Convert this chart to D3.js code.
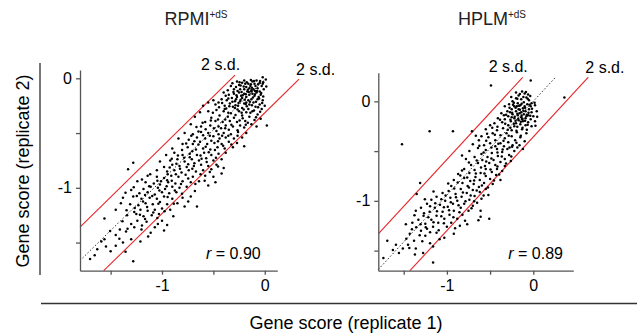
<!DOCTYPE html>
<html>
<head>
<meta charset="utf-8">
<script src="https://cdn.jsdelivr.net/npm/d3@7"></script>
<style>
  body { margin: 0; background: #fff; }
  svg { display: block; font-family: "Liberation Sans", Arial, Helvetica, sans-serif; }
</style>
</head>
<body>
<svg id="chart" width="637" height="335"></svg>
<script>
// panel labels
var panelTitles = ["RPMI", "HPLM"];
var panelSuper = ["+dS", "+dS"];
var rValues = ["0.90", "0.89"];

// gene scores [replicate 1, replicate 2]
var rpmiPoints = [
  [-0.02,0.01],[0.01,-0.01],[-0.08,-0.02],[-0.12,-0.03],[-0.2,-0.02],[-0.22,-0.04],[-0.16,-0.05],[-0.1,-0.05],[-0.05,-0.04],[-0.03,-0.07],
  [-0.14,-0.07],[-0.18,-0.08],[-0.25,-0.06],[-0.28,-0.08],[-0.07,-0.09],[-0.11,-0.1],[-0.2,-0.1],[-0.24,-0.1],[-0.3,-0.1],[-0.15,-0.09],
  [-0.01,-0.1],[-0.09,-0.07],[-0.13,-0.11],[-0.17,-0.12],[-0.05,-0.12],[-0.02,-0.05],[-0.19,-0.05],[-0.27,-0.03],[-0.33,-0.07],[-0.36,-0.11],
  [-0.08,-0.13],[-0.12,-0.14],[-0.2,-0.14],[-0.25,-0.13],[-0.3,-0.14],[-0.35,-0.15],[-0.4,-0.13],[-0.15,-0.15],[-0.1,-0.16],[-0.04,-0.15],
  [-0.18,-0.17],[-0.22,-0.18],[-0.27,-0.17],[-0.32,-0.18],[-0.13,-0.19],[-0.07,-0.19],[-0.02,-0.2],[-0.16,-0.2],[-0.24,-0.21],[-0.29,-0.21],
  [-0.37,-0.2],[-0.42,-0.19],[-0.11,-0.22],[-0.2,-0.23],[-0.34,-0.23],[-0.45,-0.22],[-0.05,-0.24],[-0.15,-0.24],[-0.26,-0.25],[-0.31,-0.26],
  [-0.39,-0.25],[-0.48,-0.24],[-0.09,-0.26],[-0.22,-0.27],[-0.03,-0.28],[0.0,-0.25],[-0.13,-0.12],[-0.23,-0.16],[-0.06,-0.17],[-0.18,-0.22],
  [-0.28,-0.19],[-0.38,-0.16],[-0.5,-0.2],[-0.55,-0.22],[-0.6,-0.25],
  [-0.045,-0.025],[-0.135,-0.015],[-0.175,-0.035],[-0.065,-0.055],[-0.235,-0.065],[-0.125,-0.085],[-0.205,-0.075],[-0.095,-0.115],[-0.155,-0.125],[-0.265,-0.115],
  [-0.035,-0.135],[-0.185,-0.145],[-0.225,-0.125],[-0.115,-0.175],[-0.275,-0.155],[-0.055,-0.185],[-0.195,-0.195],[-0.145,-0.215],[-0.255,-0.225],[-0.085,-0.215],
  [-0.315,-0.215],[-0.175,-0.255],[-0.125,-0.245],[-0.025,-0.225],[-0.205,-0.285],[-0.285,-0.245],[-0.345,-0.255],[-0.105,-0.295],[-0.065,-0.265],[-0.235,-0.195],
  [-0.165,-0.105],[-0.215,-0.155],[-0.095,-0.145],[-0.015,-0.165],[-0.305,-0.125],[-0.355,-0.185],[-0.415,-0.225],[-0.375,-0.275],[-0.445,-0.265],[-0.135,-0.055],
  [-0.075,-0.115],[-0.245,-0.035],[-0.015,-0.035],[0.015,-0.075],[-0.315,-0.045],[-0.105,-0.025],[-0.185,-0.235],[-0.265,-0.285],[-0.045,-0.305],[-0.14,-0.315],
  [-0.12,-0.3],[-0.18,-0.31],[-0.25,-0.3],[-0.33,-0.32],[-0.4,-0.3],[-0.47,-0.29],[-0.55,-0.3],[-0.63,-0.31],[-0.07,-0.33],[-0.15,-0.35],
  [-0.22,-0.34],[-0.3,-0.36],[-0.36,-0.35],[-0.44,-0.34],[-0.52,-0.36],[-0.68,-0.35],[-0.1,-0.38],[-0.19,-0.39],[-0.27,-0.4],[-0.34,-0.39],
  [-0.41,-0.4],[-0.48,-0.39],[-0.58,-0.4],[-0.04,-0.37],[-0.13,-0.42],[-0.24,-0.43],[-0.31,-0.44],[-0.38,-0.43],[-0.45,-0.44],[-0.53,-0.43],
  [-0.62,-0.44],[-0.72,-0.42],[0.02,-0.43],[-0.08,-0.44],[-0.2,-0.45],[-0.35,-0.47],[-0.16,-0.28],[-0.29,-0.27],[-0.39,-0.28],
  [-0.215,-0.365],[-0.285,-0.335],[-0.455,-0.375],[-0.505,-0.315],[-0.385,-0.375],[-0.165,-0.405],[-0.325,-0.425],[-0.425,-0.455],[-0.575,-0.465],[-0.265,-0.475],
  [-0.495,-0.455],[-0.645,-0.485],[-0.355,-0.525],[-0.415,-0.525],[-0.535,-0.525],[-0.265,-0.525],[-0.685,-0.575],[-0.455,-0.575],[-0.325,-0.605],[-0.575,-0.625],
  [-0.645,-0.605],[-0.405,-0.615],[-0.485,-0.655],[-0.765,-0.595],[-0.545,-0.675],[-0.705,-0.665],[-0.625,-0.705],[-0.475,-0.725],[-0.785,-0.725],[-0.845,-0.705],
  [-0.565,-0.765],[-0.685,-0.775],[-0.745,-0.785],[-0.905,-0.735],[-0.615,-0.735],[-0.825,-0.825],[-0.705,-0.825],[-0.535,-0.855],[-0.865,-0.875],[-0.945,-0.875],
  [-0.625,-0.875],[-0.745,-0.915],[-0.815,-0.965],[-1.045,-0.935],[-0.905,-0.935],[-0.675,-0.965],[-1.125,-0.985],[-0.955,-0.985],[-0.875,-1.025],[-1.025,-1.025],
  [-1.165,-1.065],[-0.805,-1.055],[-1.095,-1.075],[-0.945,-1.085],[-1.245,-1.075],[-1.035,-1.145],[-1.185,-1.125],[-0.885,-1.145],[-1.145,-1.175],[-1.265,-1.185],
  [-0.975,-1.215],[-1.215,-1.245],[-1.345,-1.205],[-1.045,-1.275],[-1.165,-1.285],[-0.715,-0.525],[-0.385,-0.455],[-0.185,-0.425],[-0.245,-0.385],[-0.605,-0.405],
  [-0.525,-0.385],[-0.355,-0.315],[-0.225,-0.315],[-0.085,-0.355],[-0.665,-0.445],[-0.805,-0.655],[-0.455,-0.805],[-0.925,-0.815],[-1.115,-0.875],[-1.195,-0.925],
  [-0.585,-0.935],[-1.275,-0.995],[-1.355,-1.045],[-0.745,-1.125],[-1.085,-1.225],[-1.385,-1.305],[-1.195,-1.345],[-1.335,-1.375],[-1.135,-1.445],[-1.505,-1.395],
  [-1.415,-1.465],[-1.545,-1.535],[-1.355,-1.585],[-1.655,-1.615],
  [-0.18,-0.5],[-0.26,-0.49],[-0.33,-0.51],[-0.4,-0.5],[-0.47,-0.48],[-0.55,-0.5],[-0.62,-0.49],[-0.7,-0.51],[-0.78,-0.5],[-0.22,-0.54],
  [-0.3,-0.55],[-0.38,-0.54],[-0.44,-0.55],[-0.5,-0.53],[-0.58,-0.55],[-0.66,-0.54],[-0.74,-0.56],[-0.84,-0.55],[-0.27,-0.59],[-0.35,-0.58],
  [-0.42,-0.6],[-0.49,-0.59],[-0.56,-0.6],[-0.63,-0.58],[-0.7,-0.6],[-0.8,-0.6],[-0.31,-0.63],[-0.39,-0.64],[-0.46,-0.63],[-0.53,-0.65],
  [-0.6,-0.64],[-0.67,-0.65],[-0.75,-0.63],[-0.9,-0.64],[-0.2,-0.62],[-0.52,-0.57],[-0.6,-0.52],[-0.45,-0.51],
  [-0.38,-0.68],[-0.45,-0.69],[-0.52,-0.7],[-0.59,-0.68],[-0.66,-0.7],[-0.73,-0.69],[-0.8,-0.7],[-0.88,-0.68],[-0.96,-0.7],[-0.42,-0.74],
  [-0.5,-0.75],[-0.57,-0.73],[-0.64,-0.75],[-0.71,-0.74],[-0.78,-0.76],[-0.85,-0.74],[-0.92,-0.75],[-1.02,-0.76],[-0.47,-0.79],[-0.55,-0.8],
  [-0.62,-0.79],[-0.69,-0.8],[-0.76,-0.81],[-0.83,-0.8],[-0.9,-0.79],[-0.98,-0.81],[-0.4,-0.82],[-0.6,-0.84],[-0.67,-0.85],[-0.74,-0.84],
  [-0.81,-0.86],[-0.88,-0.84],[-0.95,-0.85],[-1.05,-0.84],[-1.28,-0.77],[-1.33,-0.83],[-0.42,-0.87],[-0.73,-0.72],[-0.86,-0.78],[-0.52,-0.83],
  [-0.5,-0.9],[-0.58,-0.89],[-0.7,-0.9],[-0.77,-0.88],[-0.84,-0.9],[-0.91,-0.89],[-0.98,-0.91],[-1.05,-0.9],[-1.14,-0.89],[-0.64,-0.94],
  [-0.72,-0.95],[-0.8,-0.94],[-0.87,-0.96],[-0.94,-0.95],[-1.01,-0.94],[-1.08,-0.96],[-1.16,-0.95],[-1.24,-0.94],[-0.55,-0.98],[-0.76,-0.99],
  [-0.83,-1.0],[-0.9,-0.99],[-0.97,-1.01],[-1.04,-1.0],[-1.11,-0.99],[-1.18,-1.01],[-0.68,-1.03],[-0.86,-1.04],[-0.93,-1.05],[-1.0,-1.04],
  [-1.07,-1.06],[-1.14,-1.04],[-1.22,-1.05],[-1.3,-1.02],[-0.48,-0.95],[-0.95,-0.93],[-1.02,-0.97],
  [-0.72,-1.08],[-0.8,-1.09],[-0.9,-1.1],[-0.98,-1.08],[-1.05,-1.1],[-1.12,-1.09],[-1.2,-1.1],[-1.28,-1.08],[-1.38,-1.09],[-0.85,-1.14],
  [-0.95,-1.15],[-1.02,-1.13],[-1.09,-1.15],[-1.16,-1.14],[-1.23,-1.16],[-1.31,-1.15],[-1.4,-1.14],[-0.66,-1.17],[-0.78,-1.17],[-0.92,-1.2],
  [-1.0,-1.19],[-1.07,-1.2],[-1.14,-1.21],[-1.21,-1.2],[-1.27,-1.22],[-0.89,-1.26],[-1.03,-1.24],[-1.1,-1.25],[-1.18,-1.26],[-1.25,-1.24],
  [-1.34,-1.25],[-1.56,-1.28],[-1.45,-1.2],
  [-1.3,-1.33],[-1.24,-1.3],[-1.15,-1.31],[-1.07,-1.36],[-1.04,-1.33],[-1.0,-1.3],[-0.95,-1.34],[-1.41,-1.38],[-1.45,-1.43],[-1.35,-1.4],
  [-1.2,-1.38],[-1.11,-1.41],[-1.27,-1.36],[-0.98,-1.39],
  [-1.59,-1.49],[-1.56,-1.47],[-1.45,-1.53],[-1.21,-1.49],[-1.3,-1.47],[-1.38,-1.5],[-1.7,-1.65],[-1.28,-1.67],[-1.5,-1.58],[-1.63,-1.56]
];

var hplmPoints = [
  [-0.49,0.16],[-0.03,0.21],[0.36,0.04],[-0.12,-0.48],[-1.52,-0.43],[-1.2,-0.3],[-0.93,-0.3],[-0.71,-0.3],
  [-0.13,0.1],[-0.1,0.08],[-0.17,0.06],[-0.08,0.04],[-0.2,0.03],[-0.14,0.02],[-0.05,0.01],[-0.24,0.0],[-0.11,-0.01],[-0.02,-0.02],
  [-0.18,-0.02],[-0.07,-0.03],[-0.28,-0.03],[-0.15,-0.04],[-0.22,-0.05],[-0.1,-0.05],[-0.03,-0.05],[0.02,-0.04],[-0.33,-0.05],[-0.2,0.09],
  [-0.06,0.07],
  [-0.155,0.075],[-0.115,0.045],[-0.185,0.025],[-0.065,0.025],[-0.225,-0.015],[-0.135,-0.025],[-0.045,-0.035],[-0.095,-0.065],[-0.205,-0.065],[-0.155,-0.085],
  [-0.275,-0.065],[-0.015,-0.075],[-0.115,-0.095],[-0.245,-0.115],[-0.185,-0.125],[-0.055,-0.115],[-0.135,-0.145],[-0.315,-0.135],[-0.215,-0.155],[-0.035,-0.145],
  [-0.095,-0.195],[-0.175,-0.175],[-0.265,-0.185],[-0.145,-0.205],[-0.225,-0.225],[-0.385,-0.185],[-0.065,-0.235],[-0.325,-0.225],[-0.185,-0.255],[-0.265,-0.265],
  [-0.125,-0.265],[-0.415,-0.255],[-0.235,-0.035],[-0.255,0.045],[-0.085,0.095],[-0.035,0.055],[0.015,-0.015],[0.045,-0.155],[0.025,-0.245],[-0.165,-0.045],
  [-0.075,-0.135],[-0.125,-0.175],[-0.205,-0.195],[-0.295,-0.285],[-0.475,-0.265],[-0.195,-0.295],
  [-0.12,-0.07],[-0.17,-0.08],[-0.25,-0.08],[-0.05,-0.08],[-0.09,-0.1],[-0.2,-0.1],[-0.3,-0.1],[-0.14,-0.11],[-0.02,-0.11],[-0.37,-0.12],
  [-0.24,-0.13],[-0.11,-0.13],[-0.18,-0.14],[-0.06,-0.14],[-0.29,-0.15],[-0.14,-0.16],[-0.22,-0.17],[-0.09,-0.17],[-0.33,-0.18],[-0.41,-0.17],
  [-0.03,-0.18],[-0.17,-0.19],[-0.26,-0.2],[-0.12,-0.2],[-0.06,-0.21],[-0.36,-0.21],[-0.2,-0.22],[-0.45,-0.22],[-0.15,-0.23],[-0.29,-0.24],
  [-0.09,-0.24],[-0.22,-0.25],[-0.02,-0.25],[-0.5,-0.24],[-0.16,-0.12],[-0.27,-0.11],[-0.08,-0.15],[-0.19,-0.05],[0.0,-0.15],[-0.34,-0.14],
  [-0.13,-0.18],[-0.25,-0.16],[0.04,-0.1],[0.02,-0.2],
  [-0.35,-0.27],[-0.13,-0.28],[-0.25,-0.29],[-0.42,-0.29],[-0.55,-0.28],[-0.19,-0.31],[-0.31,-0.32],[-0.47,-0.32],[-0.08,-0.32],[-0.38,-0.34],
  [-0.25,-0.35],[-0.6,-0.35],[-0.15,-0.36],[-0.52,-0.36],[-0.33,-0.37],[-0.44,-0.39],[-0.21,-0.39],[-0.63,-0.39],[-0.29,-0.41],[-0.1,-0.4],
  [-0.38,-0.42],[-0.5,-0.42],[-0.24,-0.44],[-0.57,-0.44],[-0.16,-0.44],[-0.7,-0.43],[-0.44,-0.45],[-0.34,-0.45],
  [-0.285,-0.345],[-0.445,-0.335],[-0.345,-0.395],[-0.545,-0.395],[-0.195,-0.415],[-0.405,-0.425],[-0.275,-0.465],[-0.485,-0.465],[-0.625,-0.445],[-0.355,-0.485],
  [-0.185,-0.465],[-0.575,-0.515],[-0.415,-0.515],[-0.255,-0.555],[-0.485,-0.575],[-0.655,-0.595],[-0.365,-0.555],[-0.545,-0.605],[-0.415,-0.655],[-0.605,-0.665],
  [-0.745,-0.615],[-0.495,-0.685],[-0.665,-0.725],[-0.395,-0.735],[-0.565,-0.725],[-0.765,-0.765],[-0.845,-0.745],[-0.455,-0.795],[-0.685,-0.795],[-0.595,-0.845],
  [-0.875,-0.815],[-0.745,-0.865],[-0.525,-0.865],[-0.915,-0.875],[-0.655,-0.895],[-0.815,-0.915],[-1.015,-0.945],[-0.725,-0.945],[-0.895,-0.965],[-1.065,-0.985],
  [-0.785,-1.005],[-0.955,-1.015],[-1.135,-1.025],[-0.865,-1.045],[-1.035,-1.065],[-1.195,-1.055],[-0.715,-1.075],[-0.975,-1.095],[-1.115,-1.105],[-1.265,-1.125],
  [-0.855,-1.115],[-1.065,-1.155],[-1.215,-1.165],[-0.925,-1.165],[-1.155,-1.215],[-1.305,-1.235],[-1.035,-1.225],[-1.245,-1.265],[-0.905,-1.275],[-1.355,-1.265],
  [-1.095,-1.295],[-1.195,-1.315],[-1.315,-1.345],[-1.405,-1.285],[-1.285,-1.405],[-1.195,-1.425],[-1.435,-1.475],[-1.275,-1.525],[-1.555,-1.525],[-1.625,-1.495],
  [-1.735,-1.575],[-1.085,-1.385],[-0.825,-0.695],[-0.315,-0.625],[-0.245,-0.455],[-0.145,-0.345],[-0.075,-0.285],[-0.535,-0.325],[-0.665,-0.345],[-0.825,-0.545],
  [-0.985,-0.825],[-1.155,-0.905],[-1.255,-0.985],[-1.375,-1.145],[-1.475,-1.235],[-0.685,-1.005],[-0.575,-0.945],[-0.635,-1.195],[-0.765,-1.235],
  [-0.3,-0.48],[-0.42,-0.48],[-0.55,-0.49],[-0.64,-0.47],[-0.22,-0.5],[-0.36,-0.51],[-0.48,-0.52],[-0.74,-0.5],[-0.6,-0.53],[-0.28,-0.54],
  [-0.41,-0.55],[-0.53,-0.56],[-0.68,-0.56],[-0.33,-0.58],[-0.46,-0.59],[-0.59,-0.59],[-0.78,-0.58],[-0.26,-0.6],[-0.38,-0.61],[-0.51,-0.62],
  [-0.64,-0.62],[-0.44,-0.64],[-0.72,-0.64],[-0.33,-0.65],[-0.56,-0.65],
  [-0.42,-0.68],[-0.55,-0.68],[-0.68,-0.69],[-0.8,-0.68],[-0.36,-0.7],[-0.48,-0.71],[-0.61,-0.72],[-0.74,-0.72],[-0.87,-0.73],[-0.43,-0.74],
  [-0.55,-0.75],[-0.67,-0.76],[-0.8,-0.77],[-0.5,-0.78],[-0.62,-0.79],[-0.73,-0.8],[-0.92,-0.79],[-0.38,-0.79],[-0.57,-0.82],[-0.69,-0.83],
  [-0.82,-0.82],[-0.47,-0.83],[-0.76,-0.85],[-0.63,-0.86],[-0.95,-0.85],[-1.31,-0.82],
  [-0.55,-0.88],[-0.7,-0.89],[-0.84,-0.88],[-0.98,-0.9],[-0.62,-0.91],[-0.77,-0.92],[-0.9,-0.93],[-1.05,-0.92],[-0.52,-0.94],[-0.68,-0.95],
  [-0.83,-0.96],[-0.96,-0.97],[-1.12,-0.96],[-1.35,-0.93],[-0.6,-0.98],[-0.74,-0.99],[-0.88,-1.0],[-1.02,-1.0],[-1.18,-0.99],[-0.65,-1.02],
  [-0.8,-1.03],[-0.93,-1.03],[-1.08,-1.04],[-1.23,-1.03],[-0.7,-1.05],[-0.99,-1.06],
  [-0.84,-1.07],[-1.14,-1.07],[-1.3,-1.07],[-0.61,-1.1],[-0.75,-1.1],[-0.92,-1.1],[-1.05,-1.11],[-1.2,-1.11],[-1.36,-1.1],[-0.82,-1.14],
  [-0.97,-1.14],[-1.12,-1.15],[-1.27,-1.15],[-0.61,-1.16],[-0.51,-1.18],[-0.88,-1.18],[-1.03,-1.18],[-1.18,-1.19],[-1.33,-1.19],[-0.79,-1.2],
  [-0.95,-1.22],[-1.1,-1.22],[-1.25,-1.23],[-1.4,-1.22],[-0.85,-1.25],[-1.0,-1.26],[-1.16,-1.26],
  [-1.23,-1.28],[-1.3,-1.3],[-1.43,-1.33],[-1.25,-1.35],[-1.03,-1.37],[-0.92,-1.33],[-1.12,-1.32],[-1.69,-1.4],[-1.59,-1.44],[-1.51,-1.48],
  [-1.45,-1.44],[-1.36,-1.48],[-1.37,-1.54],[-1.16,-1.46],[-1.16,-1.62],[-1.38,-1.4],[-1.47,-1.38]
];

// fitted line (y = slope * x + intercept) and 2 s.d. band offset
var fitSlope = [0.92, 0.942];
var fitIntercept = [-0.01, 0.0];
var sdOffset = [0.305, 0.357];
// x where the fitted, upper and lower lines stop
var fitEnd = [0.0, 0.263];
var upperEnd = [-0.289, -0.123];
var lowerEnd = [0.334, 0.637];

var tickValues = [-1.5, -1, -0.5, 0];
var tickLabels = { "-1": "-1", "0": "0" };

var svg = d3.select("#chart");
var font = "'Liberation Sans', Arial, Helvetica, sans-serif";

var panels = [
    { points: rpmiPoints, xd: [-1.798, 0.122], xr: [80, 277.3], yd: [-1.757, 0.076], yr: [270.7, 70], titleX: 196 },
    { points: hplmPoints, xd: [-1.794, 0.463], xr: [378.3, 573.3], yd: [-1.702, 0.288], yr: [270.7, 72.7], titleX: 492 }
];

panels.forEach(function (p, i) {
    var x = d3.scaleLinear().domain(p.xd).range(p.xr);
    var y = d3.scaleLinear().domain(p.yd).range(p.yr);
    var g = svg.append("g");

    // title
    var t = g.append("text")
        .attr("x", p.titleX)
        .attr("y", 25)
        .attr("text-anchor", "middle")
        .attr("font-size", "18px")
        .attr("fill", "#222")
        .text(panelTitles[i]);
    t.append("tspan")
        .attr("font-size", "10px")
        .attr("dy", -7)
        .text(panelSuper[i]);

    var line = function (x0, x1, off) {
        return [[x0, fitSlope[i] * x0 + fitIntercept[i] + off], [x1, fitSlope[i] * x1 + fitIntercept[i] + off]];
    };
    var path = d3.line().x(function (d) { return x(d[0]); }).y(function (d) { return y(d[1]); });

    // fitted line
    g.append("path")
        .attr("d", path(line(p.xd[0], fitEnd[i], 0)))
        .attr("stroke", "#000")
        .attr("stroke-width", 0.8)
        .attr("stroke-dasharray", "1.5,2")
        .attr("fill", "none");

    // 2 s.d. lines
    var lowStart = (p.yd[0] - fitIntercept[i] + sdOffset[i]) / fitSlope[i];
    var up = line(p.xd[0], upperEnd[i], sdOffset[i]);
    var lo = line(lowStart, lowerEnd[i], -sdOffset[i]);
    [up, lo].forEach(function (seg) {
        g.append("path")
            .attr("d", path(seg))
            .attr("stroke", "#e8262a")
            .attr("stroke-width", 1.1)
            .attr("fill", "none");
    });

    g.append("text")
        .attr("x", x(up[1][0]) - 34)
        .attr("y", y(up[1][1]) - 5)
        .attr("font-size", "16px")
        .text("2 s.d.");
    g.append("text")
        .attr("x", x(lo[1][0]) - 3)
        .attr("y", y(lo[1][1]) - 4)
        .attr("font-size", "16px")
        .text("2 s.d.");

    // points
    g.append("g")
        .selectAll("circle")
        .data(p.points)
        .join("circle")
        .attr("cx", function (d) { return x(d[0]); })
        .attr("cy", function (d) { return y(d[1]); })
        .attr("r", 1.25)
        .attr("fill", "#000");

    // axes
    var xAxis = d3.axisBottom(x).tickValues(tickValues).tickSize(4).tickSizeOuter(0)
        .tickFormat(function (d) { return tickLabels[d] || ""; });
    var yAxis = d3.axisLeft(y).tickValues(tickValues).tickSize(4).tickSizeOuter(0)
        .tickFormat(function (d) { return tickLabels[d] || ""; });

    g.append("g")
        .attr("transform", "translate(0," + p.yr[0] + ")")
        .call(xAxis)
        .call(function (a) {
            a.selectAll("path, line").attr("stroke", "#555").attr("stroke-width", 1.3);
            a.selectAll("text").attr("font-size", "16px").attr("font-family", font).attr("fill", "#000").attr("dy", "0.85em").attr("y", 7);
        });
    g.append("g")
        .attr("transform", "translate(" + p.xr[0] + ",0)")
        .call(yAxis)
        .call(function (a) {
            a.selectAll("path, line").attr("stroke", "#555").attr("stroke-width", 1.3);
            a.selectAll("text").attr("font-size", "16px").attr("font-family", font).attr("fill", "#000").attr("x", -8);
        });

    // correlation
    var rt = g.append("text")
        .attr("x", p.xr[0] + (i === 0 ? 126 : 130))
        .attr("y", 258.5)
        .attr("font-size", "16px");
    rt.append("tspan").attr("font-style", "italic").text("r");
    rt.append("tspan").text(" = " + rValues[i]);
});

// shared axis titles
svg.append("line")
    .attr("x1", 40).attr("x2", 40).attr("y1", 63).attr("y2", 275)
    .attr("stroke", "#777").attr("stroke-width", 2);
svg.append("line")
    .attr("x1", 41).attr("x2", 637).attr("y1", 303.5).attr("y2", 303.5)
    .attr("stroke", "#333").attr("stroke-width", 1.5);

svg.append("text")
    .attr("x", 346)
    .attr("y", 329)
    .attr("text-anchor", "middle")
    .attr("font-size", "18px")
    .text("Gene score (replicate 1)");
svg.append("text")
    .attr("transform", "translate(29,171) rotate(-90)")
    .attr("text-anchor", "middle")
    .attr("font-size", "18px")
    .text("Gene score (replicate 2)");
</script>
</body>
</html>
